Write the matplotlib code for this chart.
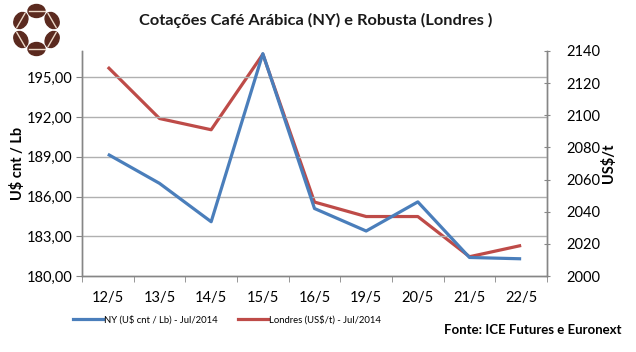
import matplotlib
matplotlib.use("Agg")
import matplotlib.pyplot as plt
from matplotlib.patches import Ellipse
from matplotlib.lines import Line2D
import numpy as np

plt.rcParams['font.family'] = ['Lato', 'DejaVu Sans']

categories = ["12/5", "13/5", "14/5", "15/5", "16/5", "19/5", "20/5", "21/5", "22/5"]
ny_values = [189.2, 187.0, 184.1, 196.8, 185.1, 183.4, 185.6, 181.4, 181.3]
londres_values = [2130, 2098, 2091, 2138, 2046, 2037, 2037, 2012, 2019]
left_ticks = [180, 183, 186, 189, 192, 195]
right_ticks = [2000, 2020, 2040, 2060, 2080, 2100, 2120, 2140]

title = "Cotações Café Arábica (NY) e Robusta (Londres )"
ny_label = "NY (U$ cnt / Lb) - Jul/2014"
londres_label = "Londres (US$/t) - Jul/2014"
source = "Fonte: ICE Futures e Euronext"

W, H = 636, 352
fig = plt.figure(figsize=(W / 100, H / 100), dpi=100)
fig.patch.set_facecolor("white")

blue = "#4a7ebb"
red = "#be4b48"
grid_c = "#b0b0b0"
axis_c = "#868686"

ax = fig.add_axes([82 / W, 1 - 276 / H, (547 - 82) / W, (276 - 51) / H])
ax2 = ax.twinx()

x = np.arange(len(categories))
ax.plot(x, ny_values, color=blue, lw=2.3, solid_capstyle="butt", zorder=3)
ax2.plot(x, londres_values, color=red, lw=2.3, solid_capstyle="butt", zorder=3)

ax.set_xlim(-0.5, len(categories) - 0.5)
ax.set_ylim(180, 197)
ax2.set_ylim(2000, 2140)

ax.set_yticks(left_ticks)
ax.set_yticklabels([f"{v:.2f}".replace(".", ",") for v in left_ticks], fontsize=10.5)
ax2.set_yticks(right_ticks)
ax2.set_yticklabels([str(v) for v in right_ticks], fontsize=10.5)

ax.set_xticks(x)
ax.set_xticklabels(categories, fontsize=10.5)
ax.set_xticks(np.arange(-0.5, len(categories), 1.0), minor=True)
ax.tick_params(axis="x", which="major", length=0, pad=11)
ax.tick_params(axis="x", which="minor", length=4, color=axis_c, direction="out")
ax.tick_params(axis="y", length=4, color=axis_c, direction="out", pad=3)
ax2.tick_params(axis="y", length=4, color=axis_c, direction="inout", pad=12)

for yv in left_ticks[1:]:
    ax.axhline(yv, color=grid_c, lw=1, zorder=1)

for a in (ax, ax2):
    a.spines["top"].set_visible(False)
    for s in ("left", "right", "bottom"):
        a.spines[s].set_color(axis_c)
        a.spines[s].set_linewidth(1)
ax.set_zorder(ax2.get_zorder() + 1)
ax.patch.set_visible(False)

fig.text(18 / W, 1 - 163 / H, "U$ cnt / Lb", rotation=90, fontsize=10.5,
         fontweight="bold", ha="center", va="center")
fig.text(609 / W, 1 - 163 / H, "US$/t", rotation=90, fontsize=10.5,
         fontweight="bold", ha="center", va="center")

fig.text(316 / W, 1 - 20 / H, title, fontsize=11.8, fontweight="bold",
         ha="center", va="center", color="#1a1a1a")
fig.text(622 / W, 1 - 330 / H, source, fontsize=9.5, fontweight="bold",
         ha="right", va="center")

handles = [Line2D([], [], color=blue, lw=2.3), Line2D([], [], color=red, lw=2.3)]
fig.legend(handles, [ny_label, londres_label], loc="center left",
           bbox_to_anchor=(64 / W, 1 - 320 / H), ncol=2, frameon=False,
           fontsize=6.8, handlelength=3.2, handletextpad=0.1, columnspacing=2.2)

# logo: ring of coffee beans
lax = fig.add_axes([0, 1 - 65 / H, 75 / W, 65 / H])
lax.set_xlim(0, 75)
lax.set_ylim(65, 0)
lax.axis("off")
cx, cy, r = 36.5, 30.0, 19.0
bean_angles = [90, 30, -30, -90, -150, 150]
for ang in bean_angles:
    t = np.deg2rad(ang)
    bx = cx + r * np.cos(t) * 0.95
    by = cy - r * np.sin(t)
    tang = ang + 90
    e = Ellipse((bx, by), 17, 13, angle=-tang, color="#5b2a1f")
    lax.add_patch(e)
    dx = 8.0 * np.cos(np.deg2rad(tang))
    dy = -8.0 * np.sin(np.deg2rad(tang))
    lax.plot([bx - dx, bx + dx], [by - dy, by + dy], color="#ecd9c8", lw=1.0)

fig.savefig("out.png", dpi=100, facecolor="white")
